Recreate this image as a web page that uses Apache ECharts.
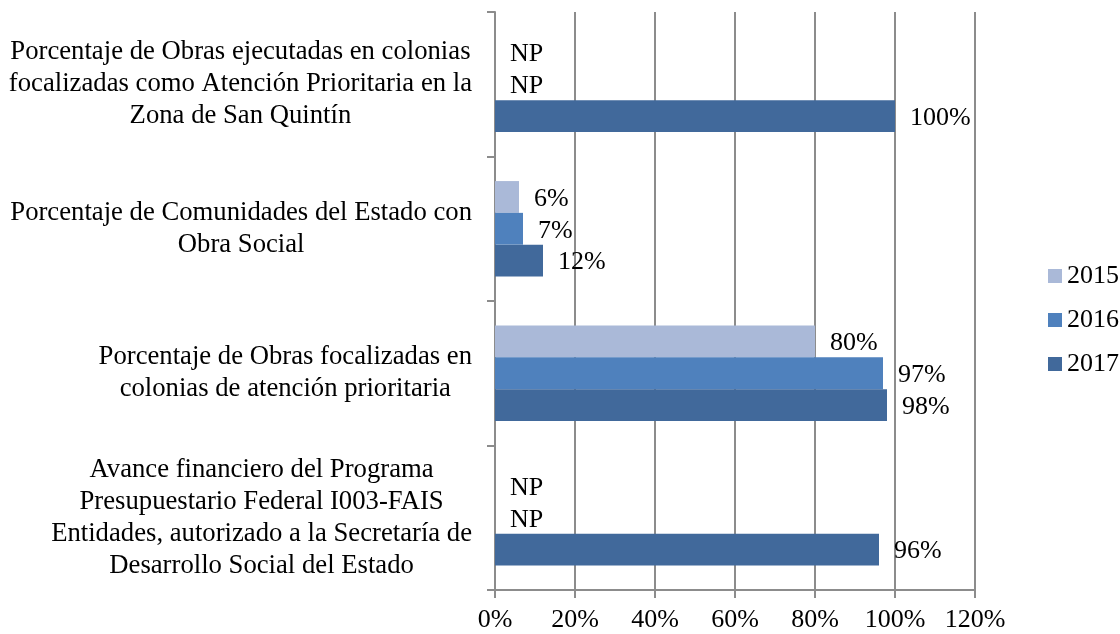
<!DOCTYPE html>
<html>
<head>
<meta charset="utf-8">
<script src="https://cdn.jsdelivr.net/npm/echarts@6/dist/echarts.min.js"></script>
<style>
  html, body { margin: 0; padding: 0; background: #fff; }
  #main { width: 1120px; height: 634px; }
</style>
</head>
<body>
<div id="main"></div>
<script>
// categorias de abajo hacia arriba (eje y)
var categorias = [
  'Avance financiero del Programa\nPresupuestario Federal I003-FAIS\nEntidades, autorizado a la Secretaría de\nDesarrollo Social del Estado',
  'Porcentaje de Obras focalizadas en\ncolonias de atención prioritaria',
  'Porcentaje de Comunidades del Estado con\nObra Social',
  'Porcentaje de Obras ejecutadas en colonias\nfocalizadas como Atención Prioritaria en la\nZona de San Quintín'
];
// null = NP
var v2015 = [null, 0.80, 0.06, null];
var v2016 = [null, 0.97, 0.07, null];
var v2017 = [0.96, 0.98, 0.12, 1.00];
var ticksX = [0, 0.2, 0.4, 0.6, 0.8, 1.0, 1.2];

var FONT = 'Liberation Serif';

function datos(arr) {
  return arr.map(function (v) {
    if (v === null) {
      return { value: 0, label: { formatter: 'NP' } };
    }
    return v;
  });
}

function serie(nombre, arr, color) {
  return {
    name: nombre,
    type: 'bar',
    data: datos(arr),
    barGap: '0%',
    barCategoryGap: '34%',
    itemStyle: { color: color },
    label: {
      show: true,
      position: 'right',
      distance: 15,
      color: '#000',
      fontFamily: FONT,
      fontSize: 26,
      offset: [0, 2],
      formatter: function (p) { return Math.round(p.value * 100) + '%'; }
    }
  };
}

var chart = echarts.init(document.getElementById('main'));

chart.setOption({
  animation: false,
  backgroundColor: '#fff',
  textStyle: { fontFamily: FONT },
  grid: { left: 495, right: 145, top: 12, bottom: 44, containLabel: false },
  legend: {
    data: ['2015', '2016', '2017'],
    orient: 'vertical',
    left: 1043,
    top: 258,
    itemWidth: 14,
    itemHeight: 14,
    itemGap: 18,
    icon: 'rect',
    textStyle: { fontFamily: FONT, fontSize: 26, color: '#000', lineHeight: 26 }
  },
  xAxis: {
    type: 'value',
    min: ticksX[0],
    max: ticksX[ticksX.length - 1],
    interval: 0.2,
    axisLine: { show: true, lineStyle: { color: '#8c8c8c', width: 2 } },
    axisTick: { show: true, length: 8, lineStyle: { color: '#8c8c8c', width: 2 } },
    splitLine: { show: true, lineStyle: { color: '#8c8c8c', width: 2 } },
    axisLabel: {
      color: '#000',
      fontFamily: FONT,
      fontSize: 26,
      margin: 17,
      formatter: function (v) { return Math.round(v * 100) + '%'; }
    }
  },
  yAxis: {
    type: 'category',
    data: categorias,
    axisLine: { show: true, lineStyle: { color: '#8c8c8c', width: 2 } },
    axisTick: { show: true, length: 8, lineStyle: { color: '#8c8c8c', width: 2 } },
    axisLabel: {
      color: '#000',
      margin: 23,
      formatter: function (v) {
        return v.split('\n').map(function (l) { return '{c|' + l + '}'; }).join('\n');
      },
      rich: {
        c: { align: 'center', fontFamily: FONT, fontSize: 26.7, lineHeight: 32, color: '#000' }
      }
    }
  },
  series: [
    serie('2015', v2015, '#aab9d8'),
    serie('2016', v2016, '#4f81bd'),
    serie('2017', v2017, '#41699b')
  ]
});
</script>
</body>
</html>
